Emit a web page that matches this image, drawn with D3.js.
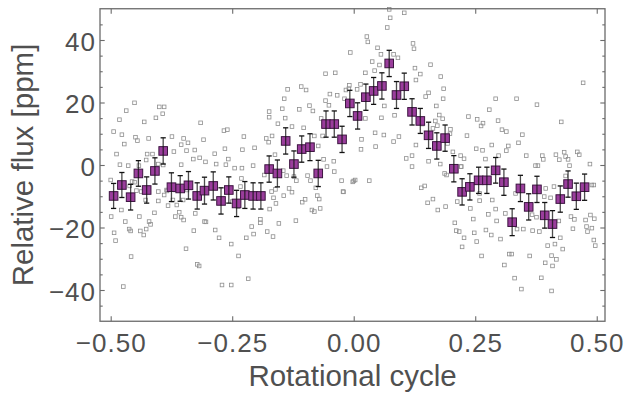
<!DOCTYPE html>
<html>
<head>
<meta charset="utf-8">
<script src="https://cdn.jsdelivr.net/npm/d3@7"></script>
<style>
  body { margin: 0; background: #fff; }
  text { font-family: "Liberation Sans", Arial, sans-serif; fill: #505050; }
</style>
</head>
<body>
<svg id="chart" width="627" height="394"></svg>
<script>
// binned light curve (purple squares)
const binPhase = [-0.494, -0.477, -0.459, -0.443, -0.426, -0.409, -0.392, -0.375, -0.357, -0.340,
  -0.322, -0.307, -0.289, -0.273, -0.257, -0.241, -0.224, -0.207, -0.191, -0.174,
  -0.157, -0.140, -0.123, -0.107, -0.090, -0.073, -0.057, -0.040, -0.024, -0.008,
  0.008, 0.025, 0.041, 0.058, 0.073, 0.088, 0.104, 0.120, 0.137, 0.154,
  0.171, 0.188, 0.206, 0.223, 0.239, 0.257, 0.274, 0.292, 0.309, 0.326,
  0.343, 0.360, 0.377, 0.393, 0.409, 0.425, 0.441, 0.458, 0.475];
const binFlux = [-9.9, -6.4, -10.3, -2.7, -8.0, -1.9, 4.5, -7.1, -7.5, -6.5,
  -9.9, -8.2, -6.7, -11.5, -8.0, -12.3, -9.6, -9.9, -9.9, -1.3,
  -2.7, 7.7, 0.3, 5.1, 5.7, -2.7, 13.1, 13.1, 8.2, 19.7,
  15.7, 21.7, 23.7, 25.3, 32.5, 22.4, 25.2, 17.0, 14.1, 9.5,
  6.1, 8.6, -1.2, -8.6, -7.0, -4.9, -4.9, -1.7, -5.5, -18.3,
  -7.5, -13.4, -7.8, -16.1, -18.9, -10.9, -6.1, -10.0, -7.1];
const binErr = [4.0, 4.0, 4.1, 4.1, 4.2, 4.2, 4.2, 4.6, 4.1, 4.4,
  4.2, 4.3, 4.5, 4.2, 4.2, 4.2, 4.3, 4.2, 4.2, 4.2,
  4.3, 4.2, 4.2, 4.2, 4.3, 4.2, 4.2, 4.2, 4.2, 4.2,
  4.2, 4.2, 4.3, 4.2, 4.2, 4.3, 4.2, 4.2, 4.0, 4.2,
  4.2, 4.2, 4.2, 4.2, 4.2, 4.2, 4.2, 4.1, 4.2, 4.3,
  4.2, 4.2, 4.2, 4.1, 4.3, 4.2, 4.2, 4.2, 4.2];

// unbinned measurements (grey open squares): [phase, flux]
const rawPoints = [
  [-0.451,19.9],[-0.468,17.4],[-0.482,14.5],[-0.431,13.8],[-0.400,18.6],[-0.390,18.6],[-0.393,16.4],[-0.407,15.1],
  [-0.315,13.5],[-0.494,10.7],[-0.477,9.7],[-0.472,6.7],[-0.449,8.9],[-0.445,7.8],[-0.422,8.5],[-0.374,9.1],
  [-0.488,3.5],[-0.425,3.5],[-0.414,3.5],[-0.427,1.6],[-0.481,0.1],[-0.464,-0.2],[-0.402,0.3],[-0.392,0.0],
  [-0.370,4.3],[-0.355,6.5],[-0.350,8.5],[-0.341,7.1],[-0.344,4.6],[-0.327,4.8],[-0.309,8.1],[-0.330,1.9],
  [-0.317,2.3],[-0.305,1.0],[-0.286,3.6],[-0.283,0.3],[-0.267,11.0],[-0.260,11.3],[-0.265,5.2],[-0.258,1.9],
  [-0.263,0.1],[-0.245,-1.0],[-0.230,-1.0],[-0.207,-0.2],[-0.226,9.1],[-0.229,4.9],[-0.204,5.5],[-0.180,8.5],
  [-0.175,7.3],[-0.174,17.1],[-0.174,15.3],[-0.355,0.1],
  [-0.499,-16.5],[-0.493,-21.7],[-0.490,-24.2],[-0.458,-29.3],[-0.474,-38.9],[-0.470,-18.1],[-0.462,-20.5],
  [-0.459,-21.1],[-0.441,-16.5],[-0.439,-21.1],[-0.432,-22.4],[-0.427,-20.5],[-0.421,-18.1],[-0.418,-19.0],
  [-0.410,-15.3],[-0.402,-11.5],[-0.382,-13.0],[-0.384,-8.3],[-0.364,-12.8],[-0.359,-15.1],[-0.367,-16.5],
  [-0.355,-16.7],[-0.350,-17.6],[-0.329,-21.0],[-0.326,-15.5],[-0.345,-26.8],[-0.322,-31.8],[-0.318,-32.3],
  [-0.307,-18.1],[-0.304,-18.2],[-0.285,-20.8],[-0.277,-23.3],[-0.271,-38.4],[-0.252,-38.4],[-0.252,-25.3],
  [-0.237,-29.1],[-0.221,-23.3],[-0.217,-36.4],[-0.210,-19.7],[-0.206,-22.1],[-0.192,-17.4],[-0.192,-18.5],
  [-0.178,-21.3],
  [0.073,49.8],[0.075,47.1],[0.104,48.7],[0.069,44.0],[0.027,41.1],[0.029,39.4],[0.122,38.9],[0.124,37.2],
  [0.049,37.5],[0.056,35.4],[-0.007,36.0],[0.082,35.4],[0.091,34.3],[0.038,33.1],[0.053,32.0],[0.158,32.1],
  [0.126,31.0],[-0.058,29.2],[-0.038,29.5],[0.024,29.5],[0.043,30.2],[0.137,29.1],[0.179,28.3],[0.128,27.2],
  [-0.009,25.5],[-0.010,24.4],[-0.016,24.0],[0.014,25.8],[0.007,24.2],[-0.136,24.2],[-0.108,25.1],[-0.098,24.0],
  [0.154,23.1],[0.148,21.9],[-0.049,22.7],[-0.034,22.3],[-0.143,21.2],[-0.058,20.6],[-0.051,19.1],[-0.019,21.2],
  [0.170,18.9],[-0.147,18.0],[-0.112,17.8],[-0.091,19.0],[-0.084,17.3],[-0.067,14.9],[0.024,14.9],[0.057,15.1],
  [0.063,18.9],[0.084,15.9],[0.141,13.1],[0.168,14.1],[-0.156,13.2],[-0.141,15.0],[-0.127,12.3],[-0.103,11.9],
  [-0.168,9.3],[-0.081,9.3],[-0.064,9.3],[-0.073,6.1],[0.016,8.2],[0.044,10.3],[0.062,9.6],[0.045,5.9],
  [0.015,5.0],[0.093,9.1],[0.082,7.5],[0.128,6.4],[0.108,2.1],[0.120,3.0],[0.154,1.2],[-0.062,1.8],
  [-0.041,1.2],[-0.162,3.3],
  [0.185,24.4],[0.184,21.2],[0.176,16.0],[0.183,14.8],[0.172,12.6],[0.163,11.7],[0.472,26.3],[0.292,21.2],
  [0.335,21.2],[0.377,19.3],[0.279,17.7],[0.236,15.5],[0.254,14.6],[0.266,13.4],[0.262,12.5],[0.297,14.2],
  [0.305,11.3],[0.314,10.7],[0.427,13.8],[0.347,9.7],[0.339,7.1],[0.233,9.4],[0.199,11.4],[0.252,5.2],
  [0.265,4.7],[0.284,6.4],[0.318,6.1],[0.314,4.6],[0.298,3.0],[0.271,1.9],[0.355,3.0],[0.374,-0.2],
  [0.379,-0.2],[0.388,3.0],[0.390,1.8],[0.416,3.3],[0.423,1.7],[0.433,4.1],[0.436,2.7],[0.441,1.8],
  [0.444,-0.2],[0.460,4.2],[0.464,3.3],[0.486,0.3],[0.220,3.0],[0.227,2.0],[0.221,-0.5],[0.204,4.2],
  [0.178,0.3],[0.193,6.9],[0.198,10.0],
  [-0.184,-3.2],[-0.161,-7.8],[-0.169,-8.5],[-0.165,-10.5],[-0.173,-14.1],[-0.160,-12.3],[-0.154,-18.7],
  [-0.166,-22.9],[-0.145,-1.8],[-0.138,-3.4],[-0.133,-7.5],[-0.127,-8.7],[-0.144,-9.8],[-0.119,-17.8],
  [-0.123,-3.7],[-0.118,-5.0],[-0.095,-3.4],[-0.089,-5.0],[-0.078,-7.3],[-0.075,-9.8],[-0.071,-10.9],
  [-0.069,-13.9],[-0.086,-14.4],[-0.081,-14.9],[-0.106,-11.9],[-0.100,-11.0],[-0.055,-0.5],[-0.040,-2.1],
  [-0.025,-5.0],[-0.021,-8.6],[-0.002,-5.4],[0.003,-4.8],[0.032,-5.0],[0.120,-0.5],[0.139,-7.3],[0.146,-6.7],
  [0.152,-12.1],[0.163,-10.9],[0.173,-14.4],
  [0.187,-2.7],[0.191,-3.2],[0.189,-13.3],[0.208,-18.5],[0.211,-21.0],[0.217,-21.3],[0.227,-23.3],[0.223,-26.2],
  [0.213,-11.7],[0.221,-0.5],[0.240,-13.9],[0.246,-17.3],[0.248,-21.7],[0.253,-24.5],[0.263,-29.1],[0.259,-11.4],
  [0.272,-20.8],[0.283,-22.4],[0.277,-15.8],[0.285,-11.2],[0.294,-17.9],[0.292,-14.1],[0.302,-23.7],[0.310,-32.0],
  [0.312,-15.5],[0.320,-28.5],[0.325,-28.5],[0.331,-36.2],[0.345,-39.7],[0.336,-20.5],[0.349,-20.5],[0.362,-29.1],
  [0.368,-21.0],[0.367,-15.9],[0.376,-16.7],[0.382,-21.3],[0.386,-36.1],[0.394,-31.3],[0.399,-25.8],[0.407,-29.0],
  [0.409,-32.3],[0.407,-40.3],[0.414,-25.3],[0.417,-30.2],[0.425,-23.3],[0.430,-26.9],[0.392,-10.1],[0.405,-10.5],
  [0.422,-17.9],[0.447,-16.5],[0.451,-20.4],[0.454,-17.4],[0.477,-17.6],[0.479,-19.7],[0.481,-21.3],[0.490,-20.2],
  [0.487,-16.0],[0.495,-17.2],[0.494,-24.0],[0.497,-25.8],[0.490,-6.4],[0.494,-6.4],[0.436,-3.5],[0.412,-6.9],
  [0.395,-7.5],[0.333,-9.1],[0.259,-9.1],
  [-0.500,-4.8],[-0.478,-14.4],[-0.461,-6.7],[-0.456,-5.3],[-0.442,-0.2],[-0.428,-11.2],[-0.402,-8.5],[-0.385,-8.0],
  [-0.372,-11.2],[-0.367,-8.0],[-0.351,-11.2],[-0.343,-8.0],[-0.451,-5.5],[-0.447,-8.2],[-0.437,-8.5],[-0.390,-9.6],
  [-0.231,-4.3],[-0.233,-6.9],[-0.250,-11.7],[-0.238,-13.3],[-0.226,-9.1],[-0.022,-8.5],[0.000,-5.1]
];

const xTicks = [-0.5, -0.25, 0, 0.25, 0.5];
const yTicks = [-40, -20, 0, 20, 40];
const yMinorTicks = [-45, -35, -30, -25, -15, -10, -5, 5, 10, 15, 25, 30, 35, 45];

const svg = d3.select("#chart");
const plotLeft = 100, plotRight = 605, plotTop = 8.75, plotBottom = 321.25;

const x = d3.scaleLinear().domain([-0.522, 0.517]).range([plotLeft, plotRight]);
const y = d3.scaleLinear().domain([-50, 50]).range([plotBottom, plotTop]);

const frameColor = "#6b6b6b";

// raw points
svg.append("g")
  .selectAll("rect")
  .data(rawPoints)
  .enter()
  .append("rect")
  .attr("x", d => x(d[0]) - 1.8)
  .attr("y", d => y(d[1]) - 1.8)
  .attr("width", 3.6)
  .attr("height", 3.6)
  .attr("fill", "none")
  .attr("stroke", "#8e8e8e")
  .attr("stroke-width", 0.8);

// binned points
const bins = binPhase.map((p, i) => ({ p: p, f: binFlux[i], e: binErr[i] }));
const gb = svg.append("g");
const s = 8.6;
gb.selectAll("rect")
  .data(bins)
  .enter()
  .append("rect")
  .attr("x", d => x(d.p) - s / 2)
  .attr("y", d => y(d.f) - s / 2)
  .attr("width", s)
  .attr("height", s)
  .attr("fill", "#9a3d9c")
  .attr("stroke", "#3d1541")
  .attr("stroke-width", 1);

const eb = gb.selectAll("g.err")
  .data(bins)
  .enter()
  .append("g")
  .attr("class", "err")
  .attr("stroke", "#111")
  .attr("stroke-width", 1.3);
eb.append("line")
  .attr("x1", d => x(d.p)).attr("x2", d => x(d.p))
  .attr("y1", d => y(d.f - d.e)).attr("y2", d => y(d.f + d.e))
  .attr("stroke-opacity", 0.75);
eb.append("line")
  .attr("x1", d => x(d.p) - 2.6).attr("x2", d => x(d.p) + 2.6)
  .attr("y1", d => y(d.f + d.e)).attr("y2", d => y(d.f + d.e));
eb.append("line")
  .attr("x1", d => x(d.p) - 2.6).attr("x2", d => x(d.p) + 2.6)
  .attr("y1", d => y(d.f - d.e)).attr("y2", d => y(d.f - d.e));

// axes
function styleAxis(g) {
  g.select(".domain").remove();
  g.selectAll(".tick line").attr("stroke", frameColor).attr("stroke-width", 1.1);
  g.selectAll(".tick text")
    .style("font-family", '"Liberation Sans", Arial, sans-serif')
    .style("font-size", "26px")
    .style("letter-spacing", "1px")
    .attr("fill", "#505050");
}

svg.append("g")
  .attr("transform", `translate(0,${plotBottom})`)
  .call(d3.axisBottom(x).tickValues(xTicks).tickSize(-5).tickPadding(12).tickFormat(d3.format(".2f")))
  .call(styleAxis);
svg.append("g")
  .attr("transform", `translate(0,${plotTop})`)
  .call(d3.axisTop(x).tickValues(xTicks).tickSize(-5).tickFormat(""))
  .call(styleAxis);
svg.append("g")
  .attr("transform", `translate(${plotLeft},0)`)
  .call(d3.axisLeft(y).tickValues(yTicks).tickSize(-4.7).tickPadding(4).tickFormat(d3.format("d")))
  .call(styleAxis)
  .selectAll(".tick text").attr("dy", "0.4em");
svg.append("g")
  .attr("transform", `translate(${plotLeft},0)`)
  .call(d3.axisLeft(y).tickValues(yMinorTicks).tickSize(-2.7).tickFormat(""))
  .call(styleAxis);
svg.append("g")
  .attr("transform", `translate(${plotRight},0)`)
  .call(d3.axisRight(y).tickValues(yTicks).tickSize(-4.7).tickFormat(""))
  .call(styleAxis);
svg.append("g")
  .attr("transform", `translate(${plotRight},0)`)
  .call(d3.axisRight(y).tickValues(yMinorTicks).tickSize(-2.7).tickFormat(""))
  .call(styleAxis);

// frame
svg.append("rect")
  .attr("x", plotLeft).attr("y", plotTop)
  .attr("width", plotRight - plotLeft).attr("height", plotBottom - plotTop)
  .attr("fill", "none")
  .attr("stroke", frameColor)
  .attr("stroke-width", 1.3);

// titles
svg.append("text")
  .attr("x", (plotLeft + plotRight) / 2)
  .attr("y", 386)
  .attr("text-anchor", "middle")
  .style("font-size", "29.5px")
  .text("Rotational cycle");

svg.append("text")
  .attr("transform", `translate(33,${y(0)}) rotate(-90)`)
  .attr("text-anchor", "middle")
  .style("font-size", "29.5px")
  .text("Relative flux [ppm]");
</script>
</body>
</html>
